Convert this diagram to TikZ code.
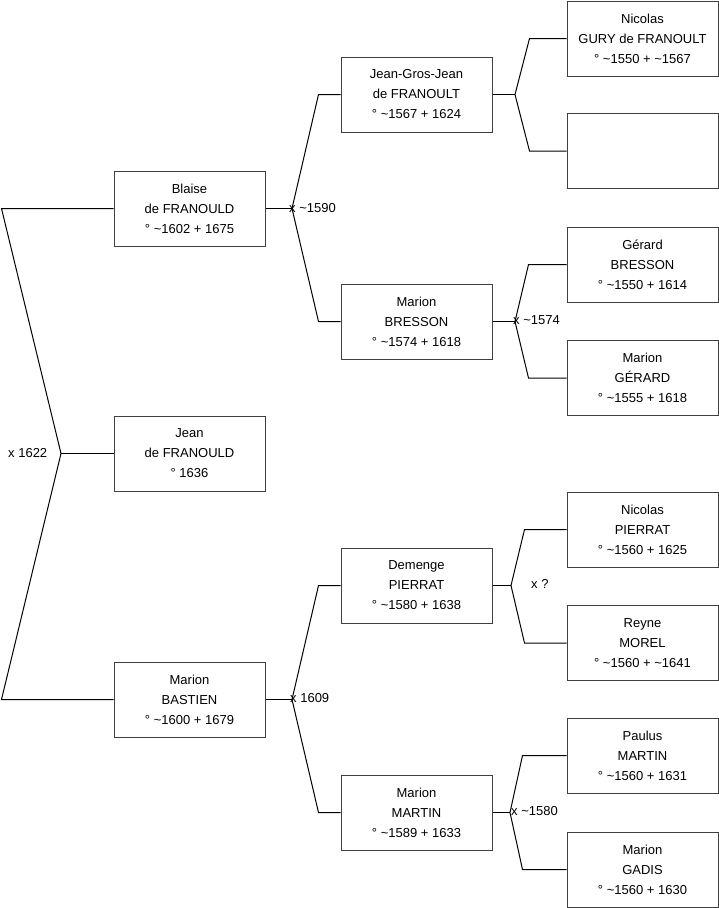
\documentclass[tikz,border=0pt]{standalone}
\usepackage{fontspec}
\setmainfont{Liberation Sans}
\newcommand\tild{\textasciitilde}
\begin{document}
\begin{tikzpicture}[x=1pt,y=-1pt,
  person/.style={draw=black!75, line width=1pt, minimum width=151pt, minimum height=75pt,
    inner sep=0pt, align=center, font=\fontsize{13}{20}\selectfont},
  link/.style={draw=black, line width=1pt},
  lbl/.style={font=\fontsize{13}{16}\selectfont, inner sep=0pt, anchor=west}]
\useasboundingbox (0,0) rectangle (719,908);

% column 1
\node[person] (blaise)  at (189.5,208.5) {Blaise\\de FRANOULD\\° \tild1602 + 1675};
\node[person] (jean)    at (189.5,453.5) {Jean\\de FRANOULD\\° 1636};
\node[person] (bastien) at (189.5,699.5) {Marion\\BASTIEN\\° \tild1600 + 1679};
% column 2
\node[person] (jgj)     at (416.5,94.5)  {Jean-Gros-Jean\\de FRANOULT\\° \tild1567 + 1624};
\node[person] (bresson) at (416.5,321.5) {Marion\\BRESSON\\° \tild1574 + 1618};
\node[person] (demenge) at (416.5,585.5) {Demenge\\PIERRAT\\° \tild1580 + 1638};
\node[person] (martin)  at (416.5,812.5) {Marion\\MARTIN\\° \tild1589 + 1633};
% column 3
\node[person] (gury)     at (642.5,38.5)  {Nicolas\\GURY de FRANOULT\\° \tild1550 + \tild1567};
\node[person] (empty)    at (642.5,151)   {};
\node[person] (gerard)   at (642.5,264.5) {Gérard\\BRESSON\\° \tild1550 + 1614};
\node[person] (mgerard)  at (642.5,378)   {Marion\\GÉRARD\\° \tild1555 + 1618};
\node[person] (npierrat) at (642.5,529.5) {Nicolas\\PIERRAT\\° \tild1560 + 1625};
\node[person] (reyne)    at (642.5,643)   {Reyne\\MOREL\\° \tild1560 + \tild1641};
\node[person] (paulus)   at (642.5,755.5) {Paulus\\MARTIN\\° \tild1560 + 1631};
\node[person] (gadis)    at (642.5,869.5) {Marion\\GADIS\\° \tild1560 + 1630};

% fork points
\coordinate (f0) at (61,453.5);
\coordinate (l1) at (1.5,208.5);
\coordinate (l2) at (1.5,699.5);
\coordinate (fB) at (292,208.5);
\coordinate (fM) at (292,699.5);
\coordinate (fJ) at (515,94.5);
\coordinate (fR) at (515,321.5);
\coordinate (fD) at (511,585.5);
\coordinate (fT) at (510,812.5);

% left fork
\draw[link] (blaise.west) -- (l1) -- (f0) -- (l2) -- (bastien.west);
\draw[link] (f0) -- (jean.west);
% column 1 -> 2
\draw[link] (blaise.east) -- (fB);
\draw[link] (jgj.west) -- ([xshift=-22pt]jgj.west) -- (fB) -- ([xshift=-22pt]bresson.west) -- (bresson.west);
\draw[link] (bastien.east) -- (fM);
\draw[link] (demenge.west) -- ([xshift=-22pt]demenge.west) -- (fM) -- ([xshift=-22pt]martin.west) -- (martin.west);
% column 2 -> 3
\draw[link] (jgj.east) -- (fJ);
\draw[link] (gury.west) -- ([xshift=-37pt]gury.west) -- (fJ) -- ([xshift=-37pt]empty.west) -- (empty.west);
\draw[link] (bresson.east) -- (fR);
\draw[link] (gerard.west) -- ([xshift=-38pt]gerard.west) -- (fR) -- ([xshift=-38pt]mgerard.west) -- (mgerard.west);
\draw[link] (demenge.east) -- (fD);
\draw[link] (npierrat.west) -- ([xshift=-42pt]npierrat.west) -- (fD) -- ([xshift=-42pt]reyne.west) -- (reyne.west);
\draw[link] (martin.east) -- (fT);
\draw[link] (paulus.west) -- ([xshift=-44pt]paulus.west) -- (fT) -- ([xshift=-44pt]gadis.west) -- (gadis.west);

% marriage labels
\node[lbl] (m0) at (8,453.5)   {x 1622};
\node[lbl] (m1) at (289,208.5) {x \tild1590};
\node[lbl] (m2) at (290,698)   {x 1609};
\node[lbl] (m3) at (513,320.5) {x \tild1574};
\node[lbl] (m4) at (531,584)   {x ?};
\node[lbl] (m5) at (511,811.5) {x \tild1580};
\end{tikzpicture}
\end{document}
